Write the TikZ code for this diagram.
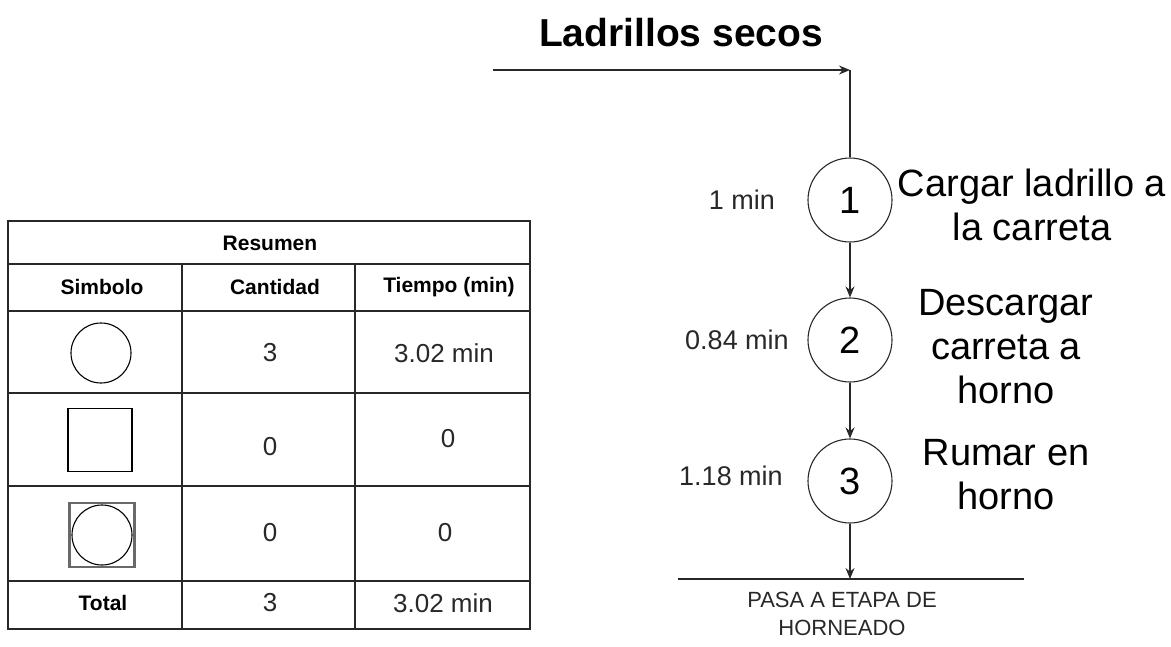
\documentclass[tikz,border=0pt]{standalone}
\usepackage{fontspec}
\setmainfont{Liberation Sans}
\definecolor{inkgray}{RGB}{40,40,40}
\definecolor{framegray}{RGB}{105,105,105}
\usetikzlibrary{arrows.meta, positioning}

\begin{document}
\begin{tikzpicture}[
    x=1pt, y=-1pt,
    opnode/.style={draw=inkgray, circle, minimum size=84pt, inner sep=0pt, line width=1.1pt, font=\fontsize{38}{38}\selectfont},
    arrow/.style={-{Stealth[length=11pt, width=9pt]}, line width=1.3pt, draw=inkgray},
    flow/.style={line width=1.3pt, draw=inkgray},
    timelabel/.style={font=\fontsize{27}{32}\selectfont, text=inkgray},
    desc/.style={font=\fontsize{38}{44}\selectfont, align=center, text=black},
    grid/.style={draw=inkgray, line width=1.5pt},
    head/.style={font=\bfseries\fontsize{21}{25}\selectfont},
    cell/.style={font=\fontsize{26}{30}\selectfont, text=inkgray},
    symop/.style={draw=black, circle, minimum size=60pt, inner sep=0pt, line width=1.1pt},
    symbox/.style={draw=black, minimum width=64pt, minimum height=63pt, inner sep=0pt, line width=1.3pt},
    symframe/.style={draw=framegray, minimum width=65pt, minimum height=64pt, inner sep=0pt, line width=2.6pt}
]
\useasboundingbox (0,0) rectangle (1171,646);

% --- Summary table ---
\draw[grid] (8,221) rectangle (530,629);
\draw[grid] (8,264) -- (530,264);
\draw[grid] (8,311) -- (530,311);
\draw[grid] (8,393) -- (530,393);
\draw[grid] (8,486) -- (530,486);
\draw[grid] (8,581) -- (530,581);
\draw[grid] (182,264) -- (182,629);
\draw[grid] (355,264) -- (355,629);

\node[head] (resumen) at (270,243) {Resumen};
\node[head] (hsym) at (102,287) {Simbolo};
\node[head] (hcant) at (275,287) {Cantidad};
\node[head] (htime) at (449,287) {Tiempo (min)};

\node[symop] (symcirc) at (101,353) {};
\node[cell] (cantop) at (270,353) {3};
\node[cell] (timeop) at (444,353) {3.02 min};

\node[symbox] (symsq) at (100,440) {};
\node[cell] (cantins) at (270,447) {0};
\node[cell] (timeins) at (448,439) {0};

\node[symframe] (symcomb) at (102,535) {};
\node[symop] (symcombc) at (102,535) {};
\node[cell] (cantcomb) at (270,533) {0};
\node[cell] (timecomb) at (445,533) {0};

\node[head] (total) at (103,603) {Total};
\node[cell] (canttot) at (270,603) {3};
\node[cell] (timetot) at (443,603) {3.02 min};

% --- Process chart ---
\node[font=\bfseries\fontsize{39}{44}\selectfont] (input) at (681,33) {Ladrillos secos};
\coordinate (feed) at (493,70);
\coordinate (corner) at (850,70);

\node[opnode] (op1) at (850,200) {1};
\node[opnode] (op2) at (850,340) {2};
\node[opnode] (op3) at (850,481) {3};

\node[timelabel] (t1) at (742,200) {1 min};
\node[timelabel] (t2) at (737,340) {0.84 min};
\node[timelabel] (t3) at (731,476) {1.18 min};

\node[desc] (d1) at (1032,205) {Cargar ladrillo a\\la carreta};
\node[desc] (d2) at (1006,347) {Descargar\\carreta a\\horno};
\node[desc] (d3) at (1006,475) {Rumar en\\horno};

\coordinate (exitL) at (678,579);
\coordinate (exitR) at (1024,579);
\coordinate (exitM) at (850,579);
\node[font=\fontsize{22}{28}\selectfont, text=inkgray, align=center] (out) at (842,614) {PASA A ETAPA DE\\HORNEADO};

\draw[arrow] (feed) -- (corner);
\draw[flow] (corner) -- (op1);
\draw[arrow] (op1) -- (op2);
\draw[arrow] (op2) -- (op3);
\draw[flow] (exitL) -- (exitR);
\draw[arrow] (op3) -- (exitM);

\end{tikzpicture}
\end{document}
